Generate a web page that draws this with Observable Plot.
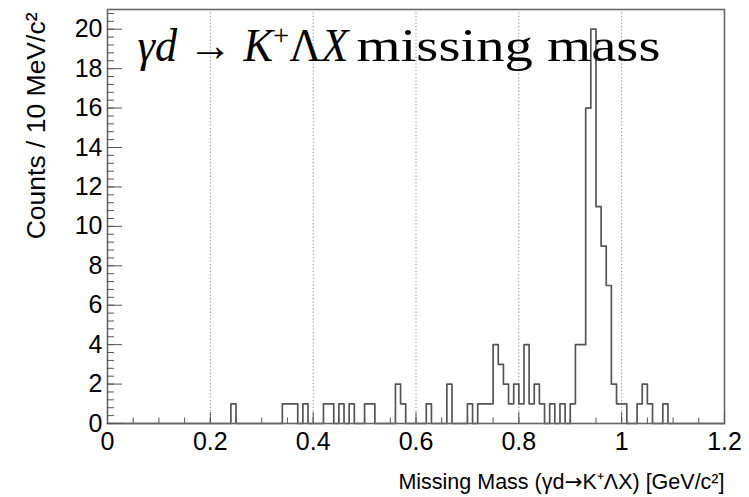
<!DOCTYPE html>
<html>
<head>
<meta charset="utf-8">
<script src="https://cdn.jsdelivr.net/npm/d3@7"></script>
<script src="https://cdn.jsdelivr.net/npm/@observablehq/plot@0.6"></script>
<style>
  html, body { margin: 0; padding: 0; background: #fff; }
  svg { display: block; }
</style>
</head>
<body>
<div id="chart"></div>
<script>
// Missing-mass spectrum, 10 MeV/c^2 bins. Only the non-empty bins are listed,
// by their lower edge in GeV/c^2, with the number of entries in each.
const binLow = [
  0.24, 0.34, 0.35, 0.36, 0.38, 0.42, 0.43, 0.45, 0.47, 0.50, 0.51,
  0.56, 0.57, 0.62, 0.66, 0.70, 0.72, 0.73, 0.74, 0.75, 0.76, 0.77,
  0.78, 0.79, 0.80, 0.81, 0.82, 0.83, 0.84, 0.86, 0.88, 0.90, 0.91,
  0.92, 0.93, 0.94, 0.95, 0.96, 0.97, 0.98, 0.99, 1.00, 1.03, 1.04,
  1.05, 1.08
];
const binCounts = [
  1, 1, 1, 1, 1, 1, 1, 1, 1, 1, 1,
  2, 1, 1, 2, 1, 1, 1, 1, 4, 3, 2,
  1, 2, 1, 4, 1, 2, 1, 1, 1, 1, 4,
  4, 16, 20, 11, 9, 7, 2, 1, 1, 1, 2,
  1, 1
];
const binWidth = 0.01;
const massRange = [0, 1.2];
const countMax = 21;

// Axis ticks and labels
const xTicks = [0, 0.2, 0.4, 0.6, 0.8, 1, 1.2];
const xGrid = [0.2, 0.4, 0.6, 0.8, 1];
const yTicks = [0, 2, 4, 6, 8, 10, 12, 14, 16, 18, 20];
const yTitle = "Counts / 10 MeV/c²";
const xTitleParts = [
  {text: "Missing Mass (γd"},
  {text: "→", font: "'DejaVu Sans', sans-serif"},
  {text: "K⁺ΛX) [GeV/c²]"}
];
const formulaParts = [
  {text: "γd", italic: true},
  {text: " → "},
  {text: "K", italic: true},
  {text: "+", sup: true},
  {text: "Λ"},
  {text: "X", italic: true}
];
const titleWords = "missing mass";

// Full binning over the axis range, empty bins at zero
const nBins = Math.round((massRange[1] - massRange[0]) / binWidth);
const filled = new Map(binLow.map((x, i) => [Math.round(x / binWidth), binCounts[i]]));
const steps = d3.range(nBins).map(i => ({x: massRange[0] + i * binWidth, y: filled.get(i) ?? 0}));
steps.push({x: massRange[1], y: 0});

const xMinor = d3.range(0, 25).map(i => i * 0.05);
const yMinor = d3.range(0, 53).map(i => i * 0.4);
const joinParts = parts => parts.map(p => p.text).join("");
const xTitle = joinParts(xTitleParts);
const formula = joinParts(formulaParts);

const sans = "'Liberation Sans', Arial, Helvetica, sans-serif";
const serif = "'Liberation Serif', 'Times New Roman', serif";

const chart = Plot.plot({
  width: 749,
  height: 497,
  marginLeft: 107,
  marginRight: 25,
  marginTop: 9,
  marginBottom: 74,
  x: {domain: massRange},
  y: {domain: [0, countMax]},
  style: {fontFamily: sans, background: "#fff", color: "#000"},
  marks: [
    Plot.ruleX(xGrid, {stroke: "#8a8a8a", strokeWidth: 1, strokeDasharray: "1.2 2.2"}),
    Plot.line(steps, {x: "x", y: "y", curve: "step-after", stroke: "#555", strokeWidth: 1.7}),
    Plot.frame({stroke: "#666", strokeWidth: 1.6}),
    // inward ticks
    Plot.axisX(xMinor, {anchor: "bottom", tickSize: -5.5, fill: "none", stroke: "#555", label: null}),
    Plot.axisX(xTicks, {anchor: "bottom", tickSize: -11, fill: "none", stroke: "#555", label: null}),
    Plot.axisY(yMinor, {anchor: "left", tickSize: -7, fill: "none", stroke: "#555", label: null}),
    Plot.axisY(yTicks, {anchor: "left", tickSize: -15, fill: "none", stroke: "#555", label: null}),
    // tick labels
    Plot.axisX(xTicks, {anchor: "bottom", tickSize: 0, tickPadding: 9, fontSize: 25, stroke: "none",
      tickFormat: d => String(d), label: null}),
    Plot.axisY(yTicks, {anchor: "left", tickSize: 0, tickPadding: 5, fontSize: 25, stroke: "none",
      tickFormat: d => String(d), label: null}),
    // axis titles
    Plot.text([xTitle], {frameAnchor: "bottom-right", text: d => d, dy: 65, lineAnchor: "bottom",
      textAnchor: "end", fontSize: 21.5, fill: "#000"}),
    Plot.text([yTitle], {frameAnchor: "top-left", text: d => d, dx: -63, dy: 3, rotate: -90,
      lineAnchor: "bottom", textAnchor: "end", fontSize: 26.5, fill: "#000"}),
    // in-frame title: formula, then words
    Plot.text([formula], {frameAnchor: "top-left", text: d => d, dx: 30, dy: 51,
      lineAnchor: "bottom", textAnchor: "start", fontSize: 46, fontFamily: serif, fill: "#000"}),
    Plot.text([titleWords], {frameAnchor: "top-left", text: d => d, dx: 249, dy: 51,
      lineAnchor: "bottom", textAnchor: "start", fontSize: 46, fontFamily: serif, fill: "#000"})
  ]
});

// Rebuild a text node from styled parts (italics, superscripts, font swaps)
function richText(content, parts, length) {
  d3.select(chart).selectAll("text")
    .filter(function() { return this.textContent === content; })
    .each(function() {
      const t = d3.select(this).text("");
      if (length) t.attr("textLength", length).attr("lengthAdjust", "spacingAndGlyphs");
      for (const p of parts) {
        const s = t.append("tspan").text(p.text);
        if (p.italic) s.attr("font-style", "italic");
        if (p.font) s.attr("font-family", p.font);
        if (p.sup) s.attr("font-size", "0.65em").attr("baseline-shift", "super");
      }
    });
}
richText(formula, formulaParts, 211);
richText(xTitle, xTitleParts, null);
d3.select(chart).selectAll("text")
  .filter(function() { return this.textContent === titleWords; })
  .attr("textLength", 304).attr("lengthAdjust", "spacingAndGlyphs");

document.getElementById("chart").append(chart);
</script>
</body>
</html>
